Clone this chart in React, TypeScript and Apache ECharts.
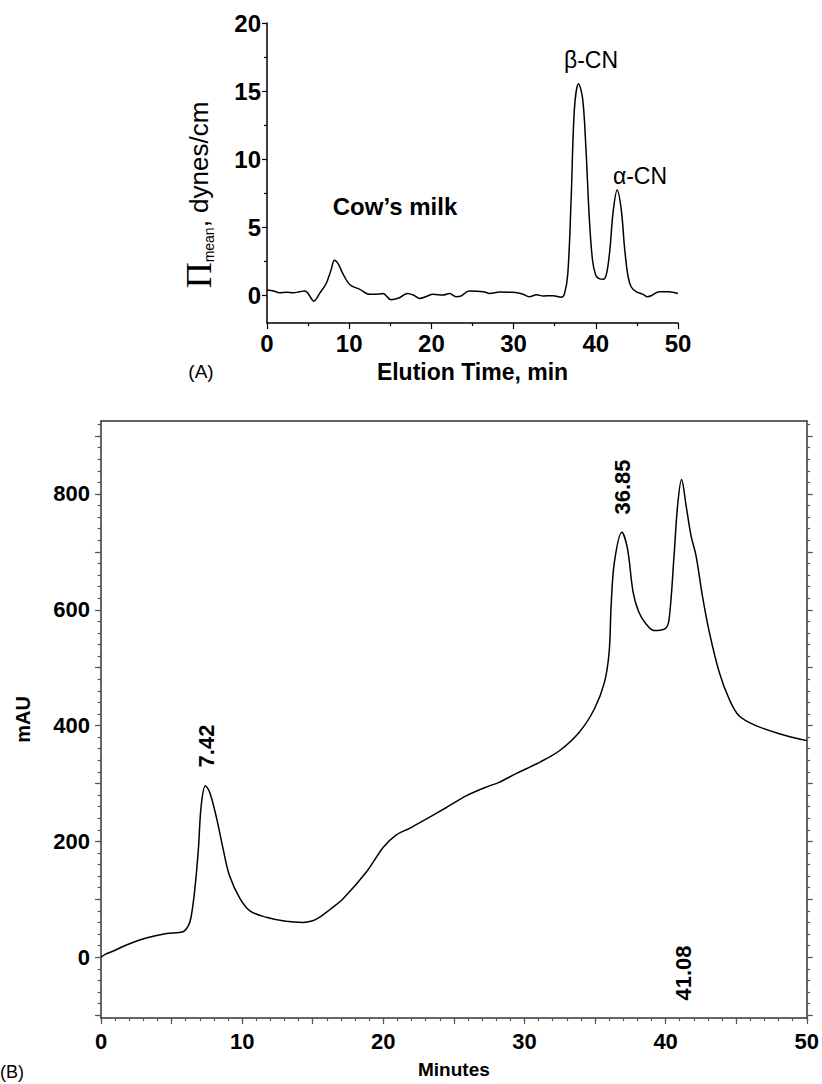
import React, { useEffect, useRef } from "react";
import * as echarts from "echarts";

// Panel A: surface pressure vs elution time
const timeA = [0, 0.8, 1.5, 2.4, 3.2, 4.0, 4.6, 5.0, 5.7, 6.4, 7.2, 7.8, 8.2, 8.7, 9.2, 10.1, 11.3, 12.5, 13.7, 14.1, 15.1, 16.1, 17.1, 17.8, 18.6, 19.4, 20.2, 21.4, 22.2, 23.0, 23.6, 24.6, 26.3, 27.1, 28.3, 29.9, 31.1, 31.9, 32.8, 33.6, 34.8, 35.8, 36.2, 36.6, 37.0, 37.4, 37.9, 38.4, 38.8, 39.2, 39.6, 40.0, 40.4, 40.9, 41.3, 41.7, 42.1, 42.6, 43.1, 43.5, 43.9, 44.3, 44.9, 45.7, 46.3, 46.9, 47.7, 48.9, 50];
const piA = [0.42, 0.35, 0.22, 0.25, 0.22, 0.3, 0.35, 0.17, -0.4, 0.17, 0.9, 1.9, 2.6, 2.3, 1.65, 0.8, 0.47, 0.1, 0.12, 0.17, -0.3, -0.15, 0.17, 0.05, -0.2, -0.05, 0.1, 0.05, 0.17, -0.07, -0.02, 0.35, 0.3, 0.17, 0.27, 0.25, 0.12, -0.07, 0.07, -0.02, 0, -0.12, 0.17, 1.65, 7.07, 13.7, 15.55, 14.45, 10.8, 5.8, 2.6, 1.5, 1.25, 1.2, 1.6, 3.3, 6.1, 7.75, 6.3, 3.5, 1.5, 0.66, 0.3, 0.12, -0.07, 0.05, 0.3, 0.3, 0.17];

// Panel B: UV absorbance vs minutes
const timeB = [0, 0.3, 1.0, 1.8, 3.2, 4.65, 5.8, 6.2, 6.4, 6.65, 6.9, 7.1, 7.4, 7.7, 8.2, 8.65, 9.1, 9.85, 10.55, 11.7, 13.1, 14.3, 15.0, 15.5, 16.2, 17.15, 18.8, 20.0, 20.9, 21.9, 23.0, 24.5, 25.9, 27.3, 28.2, 29.4, 31.1, 32.5, 33.9, 34.96, 35.67, 36.0, 36.14, 36.37, 36.9, 37.3, 37.7, 38.1, 38.6, 39.2, 40.0, 40.25, 40.6, 40.85, 41.13, 41.45, 41.8, 42.15, 42.6, 43.1, 43.8, 44.5, 45.2, 46.4, 48.05, 50];
const mauB = [0, 5, 12, 21, 33, 41, 44, 55, 72, 118, 187, 262, 296, 285, 239, 187, 141, 101, 80, 69, 62, 60, 63, 69, 82, 101, 147, 190, 211, 223, 238, 259, 279, 294, 302, 317, 337, 357, 389, 429, 475, 527, 607, 682, 734, 705, 630, 596, 576, 564, 568, 584, 694, 780, 825, 780, 728, 694, 625, 561, 492, 446, 417, 400, 386, 374];

// Tick labels
const xLabelsA = [0, 10, 20, 30, 40, 50];
const xMinorA = [5, 15, 25, 35, 45];
const yLabelsA = [0, 5, 10, 15, 20];
const yMinorA = [2.5, 7.5, 12.5, 17.5];
const xLabelsB = [0, 10, 20, 30, 40, 50];
const yLabelsB = [0, 200, 400, 600, 800];

// Peak annotations
const peakLabelsB = ["7.42", "36.85", "41.08"];

const SANS = "'Liberation Sans', Arial, sans-serif";

function range(a: number, b: number, step: number) {
  const out: number[] = [];
  for (let v = a; v <= b + 1e-9; v += step) out.push(Math.round(v * 100) / 100);
  return out;
}

export default function App() {
  const ref = useRef<HTMLDivElement>(null);
  useEffect(() => {
    if (!ref.current) return;
    const chart = echarts.init(ref.current, undefined, { renderer: "svg" });

    const blackLine = { show: true, onZero: false, lineStyle: { color: "#000", width: 1.5 } };
    const grayLine = { show: true, onZero: false, lineStyle: { color: "#333", width: 1.5 } };
    const noLine = { show: false, onZero: false };
    const noLabel = { show: false };
    const noSplit = { show: false };

    const xB5 = range(0, 50, 5);
    const xB1 = range(0, 50, 1);
    const yB100 = range(-100, 900, 100);
    const yB20 = range(-100, 920, 20);

    const option: any = {
      animation: false,
      backgroundColor: "#fff",
      grid: [
        { left: 267, top: 23, width: 411, height: 300 },
        { left: 101, top: 421, width: 707, height: 598 },
      ],
      xAxis: [
        {
          gridIndex: 0, type: "value", min: 0, max: 50, position: "bottom",
          axisLine: blackLine, splitLine: noSplit,
          axisTick: { show: true, length: 6, customValues: xLabelsA, lineStyle: { color: "#000", width: 1.2 } },
          axisLabel: { customValues: xLabelsA, margin: 8, color: "#000", fontSize: 24, fontWeight: "bold", fontFamily: SANS },
          name: "Elution Time, min", nameLocation: "middle", nameGap: 37,
          nameTextStyle: { color: "#000", fontSize: 23, fontWeight: "bold", fontFamily: SANS },
        },
        {
          gridIndex: 0, type: "value", min: 0, max: 50, position: "bottom",
          axisLine: noLine, splitLine: noSplit, axisLabel: noLabel,
          axisTick: { show: true, length: 3, customValues: xMinorA, lineStyle: { color: "#000", width: 1.2 } },
        },
        {
          gridIndex: 1, type: "value", min: 0, max: 50, position: "bottom",
          axisLine: grayLine, splitLine: noSplit,
          axisTick: { show: true, length: 6, customValues: xB5, lineStyle: { color: "#555", width: 1.2 } },
          axisLabel: { customValues: xLabelsB, margin: 12, color: "#000", fontSize: 22, fontWeight: "bold", fontFamily: SANS },
          name: "Minutes", nameLocation: "middle", nameGap: 42,
          nameTextStyle: { color: "#000", fontSize: 19, fontWeight: "bold", fontFamily: SANS },
        },
        {
          gridIndex: 1, type: "value", min: 0, max: 50, position: "bottom",
          axisLine: noLine, splitLine: noSplit, axisLabel: noLabel,
          axisTick: { show: true, length: 3, customValues: xB1, lineStyle: { color: "#555", width: 1.2 } },
        },
        {
          gridIndex: 1, type: "value", min: 0, max: 50, position: "top",
          axisLine: grayLine, splitLine: noSplit, axisLabel: noLabel, axisTick: { show: false },
        },
      ],
      yAxis: [
        {
          gridIndex: 0, type: "value", min: -2, max: 20, position: "left",
          axisLine: blackLine, splitLine: noSplit,
          axisTick: { show: true, length: 5, customValues: yLabelsA, lineStyle: { color: "#000", width: 1.2 } },
          axisLabel: { customValues: yLabelsA, margin: 6, color: "#000", fontSize: 24, fontWeight: "bold", fontFamily: SANS },
        },
        {
          gridIndex: 0, type: "value", min: -2, max: 20, position: "left",
          axisLine: noLine, splitLine: noSplit, axisLabel: noLabel,
          axisTick: { show: true, length: 3, customValues: yMinorA, lineStyle: { color: "#000", width: 1.2 } },
        },
        {
          gridIndex: 1, type: "value", min: -105, max: 926, position: "left",
          axisLine: grayLine, splitLine: noSplit,
          axisTick: { show: true, length: 6, customValues: yB100, lineStyle: { color: "#555", width: 1.2 } },
          axisLabel: { customValues: yLabelsB, margin: 11, color: "#000", fontSize: 22, fontWeight: "bold", fontFamily: SANS },
          name: "mAU", nameLocation: "middle", nameGap: 68, nameRotate: 90,
          nameTextStyle: { color: "#000", fontSize: 20, fontWeight: "bold", fontFamily: SANS },
        },
        {
          gridIndex: 1, type: "value", min: -105, max: 926, position: "left",
          axisLine: noLine, splitLine: noSplit, axisLabel: noLabel,
          axisTick: { show: true, length: 3.5, customValues: yB20, lineStyle: { color: "#555", width: 1.2 } },
        },
        {
          gridIndex: 1, type: "value", min: -105, max: 926, position: "right",
          axisLine: grayLine, splitLine: noSplit, axisLabel: noLabel,
          axisTick: { show: true, length: 6, customValues: yB100, lineStyle: { color: "#555", width: 1.2 } },
        },
        {
          gridIndex: 1, type: "value", min: -105, max: 926, position: "right",
          axisLine: noLine, splitLine: noSplit, axisLabel: noLabel,
          axisTick: { show: true, length: 3.5, customValues: yB20, lineStyle: { color: "#555", width: 1.2 } },
        },
      ],
      series: [
        {
          type: "line", xAxisIndex: 0, yAxisIndex: 0,
          data: timeA.map((t, i) => [t, piA[i]]),
          showSymbol: false, smooth: 0.35,
          lineStyle: { color: "#000", width: 1.5 },
        },
        {
          type: "line", xAxisIndex: 2, yAxisIndex: 2,
          data: timeB.map((t, i) => [t, mauB[i]]),
          showSymbol: false, smooth: 0.35,
          lineStyle: { color: "#000", width: 1.5 },
        },
      ],
      graphic: [
        {
          type: "text", x: 199, y: 195, rotation: Math.PI / 2,
          style: {
            text: "{pi|Π}{sub|mean}{t|, dynes/cm}",
            align: "center", verticalAlign: "middle", fill: "#000",
            rich: {
              pi: { fontFamily: "'Liberation Serif', serif", fontSize: 36, lineHeight: 34, fill: "#000", verticalAlign: "middle" },
              sub: { fontFamily: SANS, fontSize: 14, lineHeight: 14, fill: "#000", verticalAlign: "bottom" },
              t: { fontFamily: SANS, fontSize: 26, lineHeight: 30, fill: "#000", verticalAlign: "middle" },
            },
          },
        },
        { type: "text", x: 201, y: 371, style: { text: "(A)", font: `19px ${SANS}`, fill: "#000", align: "center", verticalAlign: "middle" } },
        { type: "text", x: 395, y: 206, style: { text: "Cow’s milk", font: `bold 24px ${SANS}`, fill: "#000", align: "center", verticalAlign: "middle" } },
        { type: "text", x: 591, y: 60, style: { text: "β-CN", font: `23px ${SANS}`, fill: "#000", align: "center", verticalAlign: "middle" } },
        { type: "text", x: 640, y: 176, style: { text: "α-CN", font: `23px ${SANS}`, fill: "#000", align: "center", verticalAlign: "middle" } },
        { type: "text", x: 12, y: 1072, style: { text: "(B)", font: `18px ${SANS}`, fill: "#000", align: "center", verticalAlign: "middle" } },
        { type: "text", x: 206, y: 746, rotation: Math.PI / 2, style: { text: peakLabelsB[0], font: `bold 22px ${SANS}`, fill: "#000", align: "center", verticalAlign: "middle" } },
        { type: "text", x: 622, y: 487, rotation: Math.PI / 2, style: { text: peakLabelsB[1], font: `bold 22px ${SANS}`, fill: "#000", align: "center", verticalAlign: "middle" } },
        { type: "text", x: 683, y: 973, rotation: Math.PI / 2, style: { text: peakLabelsB[2], font: `bold 22px ${SANS}`, fill: "#000", align: "center", verticalAlign: "middle" } },
      ],
    };
    chart.setOption(option);
    return () => chart.dispose();
  }, []);
  return (
    <div
      ref={ref}
      style={{ position: "absolute", left: 0, top: 0, width: 822, height: 1084, background: "#fff" }}
    />
  );
}
